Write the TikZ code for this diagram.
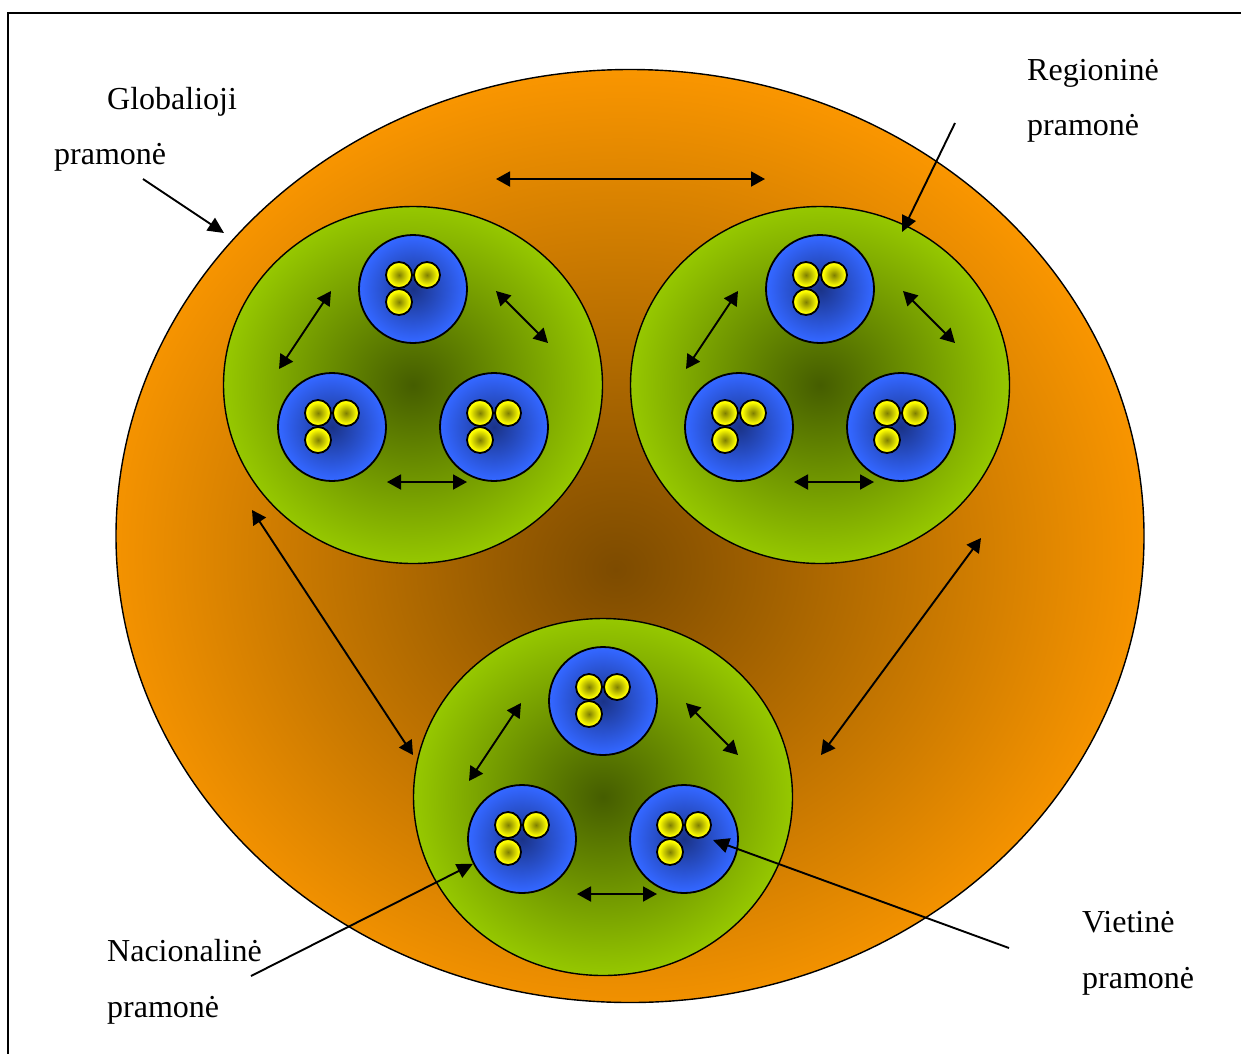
\documentclass[tikz,border=0pt]{standalone}
\usepackage{fontspec}
\setmainfont{Liberation Serif}
\usetikzlibrary{arrows.meta,shapes.geometric}

\definecolor{orangeout}{HTML}{FF9900}
\definecolor{orangein}{HTML}{7D4B00}
\definecolor{greenout}{HTML}{99CC00}
\definecolor{greenin}{HTML}{455D00}
\definecolor{blueout}{HTML}{3366FF}
\definecolor{bluein}{HTML}{1A3388}
\definecolor{yellowout}{HTML}{FFFF00}
\definecolor{yellowin}{HTML}{7F7F00}

\pgfdeclareradialshading{orangeball}{\pgfpoint{-0.7bp}{-1.8bp}}{%
  color(0bp)=(orangein); color(27bp)=(orangeout); color(50bp)=(orangeout)}
\pgfdeclareradialshading{greenball}{\pgfpoint{0bp}{0bp}}{%
  color(0bp)=(greenin); color(26bp)=(greenout); color(50bp)=(greenout)}
\pgfdeclareradialshading{blueball}{\pgfpoint{0bp}{0bp}}{%
  color(0bp)=(bluein); color(24bp)=(blueout); color(50bp)=(blueout)}
\pgfdeclareradialshading{yellowball}{\pgfpoint{0bp}{0bp}}{%
  color(0bp)=(yellowin); color(21bp)=(yellowout); color(50bp)=(yellowout)}

\tikzset{
  world/.style={ellipse, draw, line width=1.4pt, shading=orangeball,
    minimum width=1028pt, minimum height=933pt, inner sep=0pt},
  region/.style={ellipse, draw, line width=1.4pt, shading=greenball,
    minimum width=379pt, minimum height=357pt, inner sep=0pt},
  nation/.style={circle, draw, line width=1.8pt, shading=blueball,
    minimum size=108pt, inner sep=0pt},
  firm/.style={circle, draw, line width=1.8pt, shading=yellowball,
    minimum size=26pt, inner sep=0pt},
  link/.style={line width=1.9pt,
    {Triangle[length=14pt,width=15pt]}-{Triangle[length=14pt,width=15pt]}},
  pointer/.style={line width=1.9pt, -{Triangle[length=16pt,width=15pt]}},
  label/.style={anchor=base west, inner sep=0pt, font=\fontsize{32}{36}\selectfont}
}

% one national cell: blue disc with three local firms
\newcommand\nationcell[3]{%
  \node[nation] (#1) at (#2,#3) {};
  \node[firm] (#1-a) at (#2-14,#3-14) {};
  \node[firm] (#1-b) at (#2+14,#3-14) {};
  \node[firm] (#1-c) at (#2-14,#3+13) {};
}

% one regional cell: green disc, three national cells and their links
\newcommand\regioncell[3]{%
  \node[region] (#1) at (#2,#3) {};
  \nationcell{#1-n1}{#2}{#3-96}
  \nationcell{#1-n2}{#2-81}{#3+42}
  \nationcell{#1-n3}{#2+81}{#3+42}
  \coordinate (#1-l1a) at (#2-82,#3-94);
  \coordinate (#1-l1b) at (#2-134,#3-16);
  \coordinate (#1-l2a) at (#2+83,#3-94);
  \coordinate (#1-l2b) at (#2+135,#3-42);
  \coordinate (#1-l3a) at (#2-26,#3+97);
  \coordinate (#1-l3b) at (#2+54,#3+97);
  \draw[link] (#1-l1a) -- (#1-l1b);
  \draw[link] (#1-l2a) -- (#1-l2b);
  \draw[link] (#1-l3a) -- (#1-l3b);
}

\begin{document}
\begin{tikzpicture}[x=1pt,y=-1pt]
  \useasboundingbox (0,0) rectangle (1241,1053);
  % frame
  \draw[line width=1.5pt] (8,1070) -- (8,13) -- (1260,13);

  % global industry
  \node[world] (world) at (630,536) {};

  % regional industries
  \regioncell{rl}{413}{385}
  \regioncell{rr}{820}{385}
  \regioncell{rb}{603}{797}

  % links between regions
  \coordinate (g1a) at (496,179);
  \coordinate (g1b) at (765,179);
  \coordinate (g2a) at (252,510);
  \coordinate (g2b) at (413,755);
  \coordinate (g3a) at (981,538);
  \coordinate (g3b) at (821,755);
  \draw[link] (g1a) -- (g1b);
  \draw[link] (g2a) -- (g2b);
  \draw[link] (g3a) -- (g3b);

  % labels
  \node[label] (glob1) at (107,109) {Globalioji};
  \node[label] (glob2) at (54,164) {pramonė};
  \node[label] (reg1) at (1027,80) {Regioninė};
  \node[label] (reg2) at (1027,135) {pramonė};
  \node[label] (nat1) at (107,961) {Nacionalinė};
  \node[label] (nat2) at (107,1017) {pramonė};
  \node[label] (loc1) at (1082,932) {Vietinė};
  \node[label] (loc2) at (1082,988) {pramonė};

  % label pointers
  \coordinate (pg) at (143,179);
  \coordinate (pgt) at (224,233);
  \coordinate (pr) at (955,123);
  \coordinate (prt) at (902,232);
  \coordinate (pn) at (251,976);
  \coordinate (pl) at (1009,948);
  \coordinate (plt) at (713,840);
  \draw[pointer] (pg) -- (pgt);
  \draw[pointer] (pr) -- (prt);
  \draw[pointer] (pn) -- (rb-n2);
  \draw[pointer] (pl) -- (plt);
\end{tikzpicture}
\end{document}
